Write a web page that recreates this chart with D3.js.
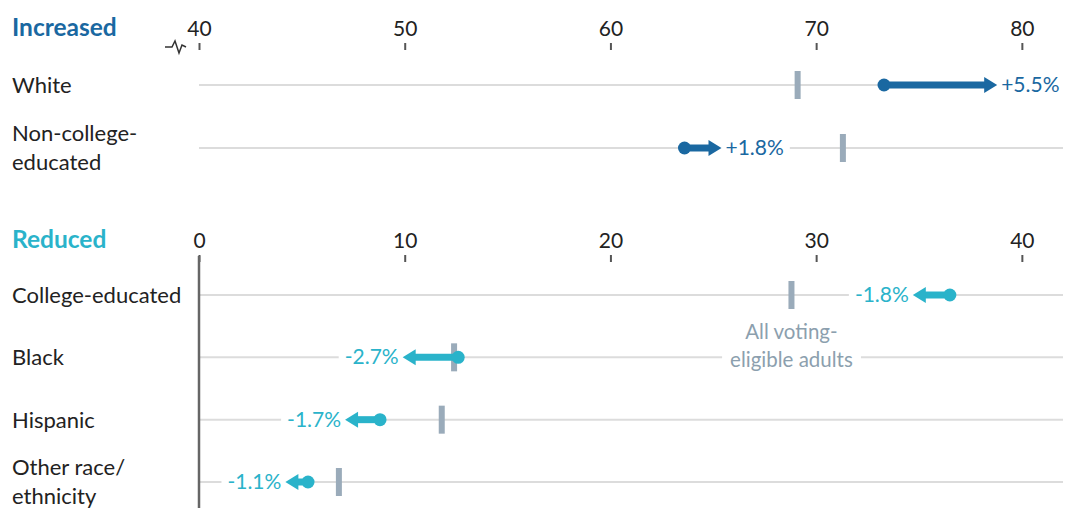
<!DOCTYPE html>
<html>
<head>
<meta charset="utf-8">
<script src="https://cdn.jsdelivr.net/npm/d3@7"></script>
<style>
  body { margin: 0; background: #fff; }
  svg text { font-family: Lato, "Open Sans", sans-serif; }
</style>
</head>
<body>
<div id="canvas"></div>
<script>
"use strict"

// data
let topCategories = ["White", "Non-college-\neducated"];
let topStart = [73.3, 63.6];
let topEnd = [78.8, 65.4];
let topAll = [69.1, 71.3];
let topLabels = ["+5.5%", "+1.8%"];
let topTicks = [40, 50, 60, 70, 80];

let bottomCategories = ["College-educated", "Black", "Hispanic", "Other race/\nethnicity"];
let bottomStart = [36.5, 12.6, 8.8, 5.3];
let bottomEnd = [34.7, 9.9, 7.1, 4.2];
let bottomAll = [28.8, 12.4, 11.8, 6.8];
let bottomLabels = ["-1.8%", "-2.7%", "-1.7%", "-1.1%"];
let bottomTicks = [0, 10, 20, 30, 40];

let width = 1081, height = 508;
let upColor = "#1a68a1";
let downColor = "#2ab3ca";
let allColor = "#9aabba";
let gridColor = "#dcdcdc";

let drawing = d3.select("#canvas")
    .append("svg")
    .attr("width", width)
    .attr("height", height);

function drawPanel(opts) {
    let x = d3.scaleLinear().domain(opts.domain).range([199, 1063]);
    let y = d3.scalePoint().domain(opts.categories).range(opts.yRange);
    let g = drawing.append("g");

    // title
    g.append("text")
        .attr("x", 12)
        .attr("y", opts.titleY)
        .attr("font-size", 24.5)
        .attr("font-weight", "bold")
        .attr("fill", opts.color)
        .text(opts.title);

    // axis
    let axis = g.append("g")
        .attr("transform", "translate(0," + opts.axisY + ")")
        .call(d3.axisTop(x).tickValues(opts.ticks).tickSize(7).tickPadding(7));
    axis.select(".domain").remove();
    axis.selectAll(".tick line").attr("stroke", "#555").attr("stroke-width", 2);
    axis.selectAll(".tick text")
        .attr("font-size", 21)
        .attr("fill", "#222")
        .style("font-family", "Lato, sans-serif");

    // gridlines
    g.selectAll(".grid")
        .data(opts.categories)
        .join("line")
        .attr("x1", x(opts.domain[0]))
        .attr("x2", x(opts.domain[1]))
        .attr("y1", d => y(d))
        .attr("y2", d => y(d))
        .attr("stroke", gridColor)
        .attr("stroke-width", 2);

    // category labels
    g.selectAll(".cat")
        .data(opts.categories)
        .join("text")
        .attr("x", 12)
        .attr("y", d => y(d))
        .attr("font-size", 22)
        .attr("fill", "#222")
        .each(function (d) {
            let lines = d.split("\n");
            let t = d3.select(this);
            lines.forEach((s, i) => {
                t.append("tspan")
                    .attr("x", 12)
                    .attr("dy", i === 0 ? (lines.length > 1 ? -7 : 8) : 29)
                    .text(s);
            });
        });

    let backs = g.append("g");
    return { x: x, y: y, g: g, backs: backs };
}

function drawMarks(p, cats, start, end, all, labels, color, up) {
    let rows = cats.map((c, i) => ({ c: c, s: start[i], e: end[i], a: all[i], l: labels[i] }));
    let dir = up ? 1 : -1;
    let headLen = 13, headHalf = 8;

    // all voting-eligible adults markers
    p.g.selectAll(".all")
        .data(rows)
        .join("rect")
        .attr("x", d => p.x(d.a) - 3)
        .attr("y", d => p.y(d.c) - 14)
        .attr("width", 6)
        .attr("height", 28)
        .attr("fill", allColor);

    // value labels with white backing
    let lab = p.g.selectAll(".lab")
        .data(rows)
        .join("text")
        .attr("x", d => p.x(d.e) + dir * 4)
        .attr("y", d => p.y(d.c) + 7)
        .attr("text-anchor", up ? "start" : "end")
        .attr("font-size", 21)
        .attr("fill", color)
        .text(d => d.l);
    lab.each(function () {
        let b = this.getBBox();
        p.backs.append("rect")
            .attr("x", b.x - 6).attr("y", b.y).attr("width", b.width + 12).attr("height", b.height)
            .attr("fill", "#fff");
    });

    // arrow shafts
    p.g.selectAll(".shaft")
        .data(rows)
        .join("line")
        .attr("x1", d => p.x(d.s))
        .attr("x2", d => p.x(d.e) - dir * (headLen - 1))
        .attr("y1", d => p.y(d.c))
        .attr("y2", d => p.y(d.c))
        .attr("stroke", color)
        .attr("stroke-width", 7);

    // arrow heads
    p.g.selectAll(".head")
        .data(rows)
        .join("path")
        .attr("d", d => {
            let tx = p.x(d.e), ty = p.y(d.c), bx = tx - dir * headLen;
            return "M" + tx + "," + ty + "L" + bx + "," + (ty - headHalf) + "L" + bx + "," + (ty + headHalf) + "Z";
        })
        .attr("fill", color);

    // start dots
    p.g.selectAll(".dot")
        .data(rows)
        .join("circle")
        .attr("cx", d => p.x(d.s))
        .attr("cy", d => p.y(d.c))
        .attr("r", 6.5)
        .attr("fill", color);
}

let topPanel = drawPanel({
    domain: [40, 82], categories: topCategories, yRange: [85, 148],
    title: "Increased", titleY: 36, color: upColor, axisY: 50, ticks: topTicks
});
let bottomPanel = drawPanel({
    domain: [0, 42], categories: bottomCategories, yRange: [295, 482],
    title: "Reduced", titleY: 248, color: downColor, axisY: 262, ticks: bottomTicks
});

// axis break symbol on top panel
topPanel.g.append("path")
    .attr("d", "M165,47 L172,47 L175,41 L179,53 L182,45 L186,47")
    .attr("fill", "none")
    .attr("stroke", "#333")
    .attr("stroke-width", 1.5);

// zero baseline on bottom panel
bottomPanel.g.append("line")
    .attr("x1", bottomPanel.x(0))
    .attr("x2", bottomPanel.x(0))
    .attr("y1", 256)
    .attr("y2", 508)
    .attr("stroke", "#666")
    .attr("stroke-width", 2.5);

// annotation for all voting-eligible adults
let noteX = bottomPanel.x(bottomAll[0]);
let note = bottomPanel.g.append("text")
    .attr("x", noteX)
    .attr("y", 339)
    .attr("text-anchor", "middle")
    .attr("font-size", 20.5)
    .attr("fill", "#8c9fae");
note.append("tspan").attr("x", noteX).attr("dy", 0).text("All voting-");
note.append("tspan").attr("x", noteX).attr("dy", 28).text("eligible adults");
let nb = note.node().getBBox();
bottomPanel.backs.append("rect")
    .attr("x", nb.x - 8).attr("y", nb.y).attr("width", nb.width + 16).attr("height", nb.height)
    .attr("fill", "#fff");

drawMarks(topPanel, topCategories, topStart, topEnd, topAll, topLabels, upColor, true);
drawMarks(bottomPanel, bottomCategories, bottomStart, bottomEnd, bottomAll, bottomLabels, downColor, false);
note.raise();
</script>
</body>
</html>
